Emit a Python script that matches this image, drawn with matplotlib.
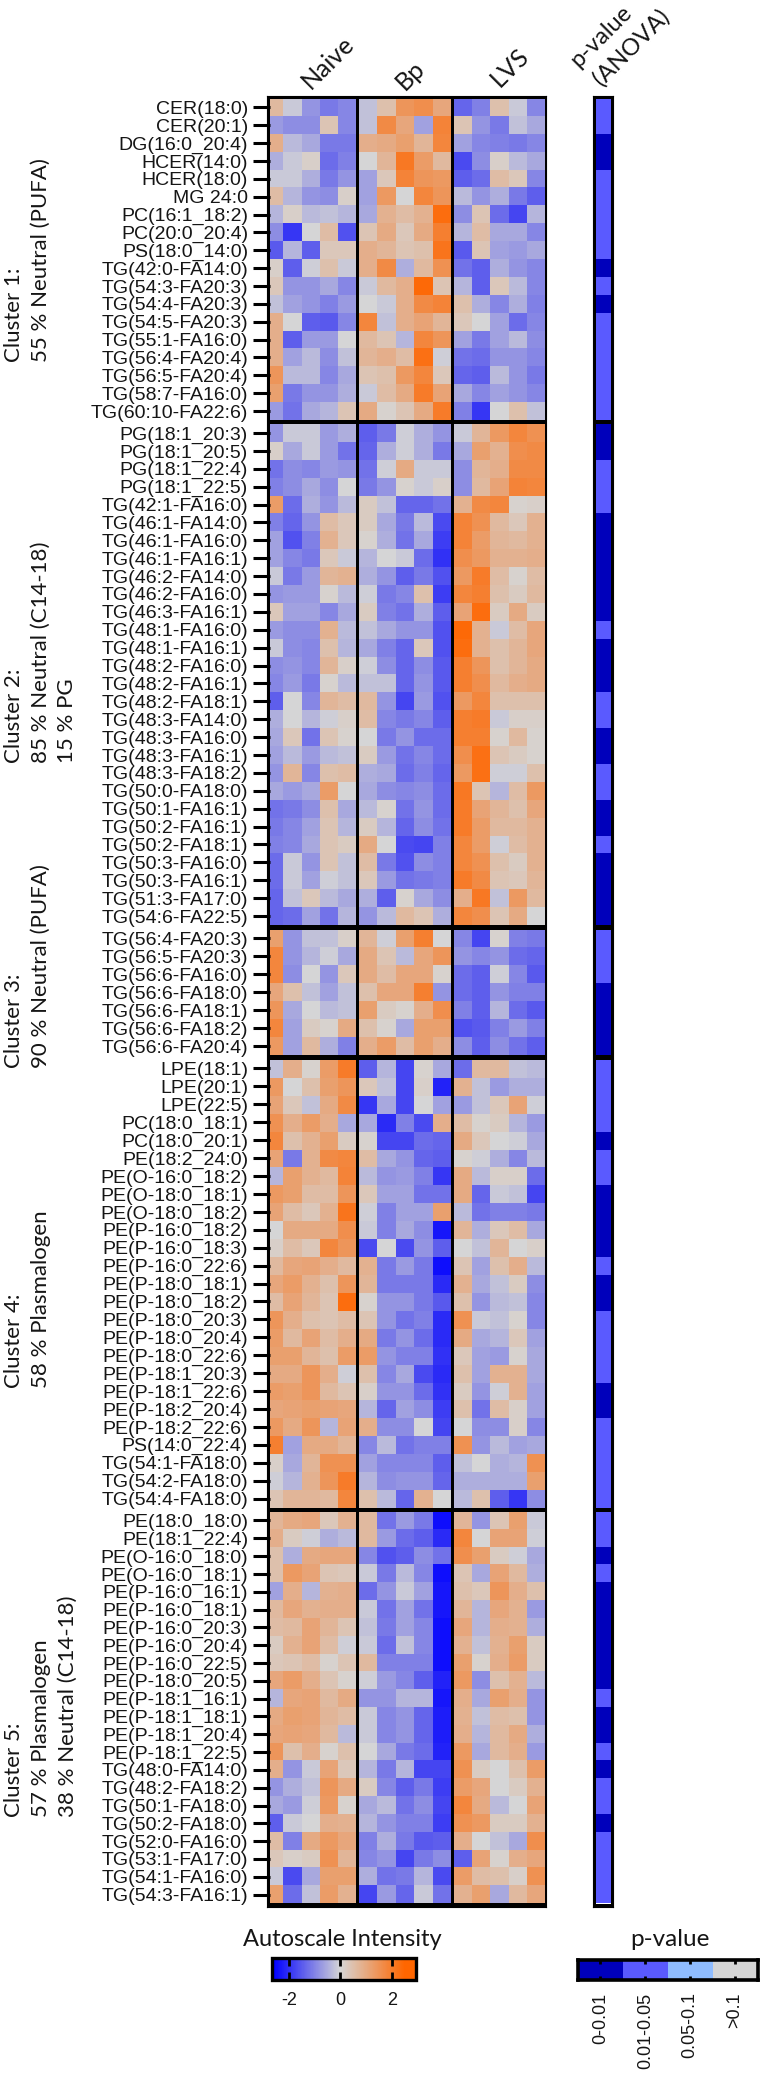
# lipid heatmap, five clusters, three groups plus ANOVA p-value strip
import numpy as np
import matplotlib
matplotlib.use("Agg")
import matplotlib.pyplot as plt
from matplotlib.colors import LinearSegmentedColormap, ListedColormap, Normalize

W, H = 764, 2076

names_1 = ["CER(18:0)", "CER(20:1)", "DG(16:0_20:4)", "HCER(14:0)", "HCER(18:0)", "MG 24:0",
           "PC(16:1_18:2)", "PC(20:0_20:4)", "PS(18:0_14:0)", "TG(42:0-FA14:0)", "TG(54:3-FA20:3)",
           "TG(54:4-FA20:3)", "TG(54:5-FA20:3)", "TG(55:1-FA16:0)", "TG(56:4-FA20:4)",
           "TG(56:5-FA20:4)", "TG(58:7-FA16:0)", "TG(60:10-FA22:6)"]
vals_1 = [
    [.8, -.2, -1.0, -1.4, -1.2, -.3, .6, 1.8, 2.0, 1.3, -1.7, -1.3, .6, -.2, -1.2],
    [-.9, -1.1, -1.1, .5, -1.2, -.3, 2.1, 1.3, -.8, 2.3, .5, -1.0, -1.4, -.3, -.7],
    [1.1, -.4, -.7, -1.4, -1.4, 1.1, 1.2, 1.5, .9, 2.2, -.8, -1.2, -1.3, -1.4, -1.2],
    [-.6, -.2, .2, -1.6, -1.3, 0, .9, 2.6, 1.6, .8, -2.1, -1.1, .2, -.4, -.7],
    [-.2, -.2, -.6, -1.4, -1.0, -.8, .4, 2.3, 1.8, 1.7, -1.8, -1.6, .7, .4, -1.2],
    [.7, -.5, -1.0, -1.1, .2, -.8, 1.7, 0, 2.2, 1.8, -.4, -1.0, -.6, -1.4, -1.8],
    [-.5, .2, -.4, -.3, -.5, -.7, 1, .7, 1, 2.9, -1.1, .5, -1.6, -2.2, -.5],
    [-1.1, -2.4, 0, .7, -2, .5, 1.2, .4, 1.2, 2.4, -.5, .7, -.7, -.7, -1.2],
    [-1.9, -.5, -1.8, .4, .4, 1.1, .9, .5, .6, 2.7, -1.9, .5, -.8, -.9, -.7],
    [.2, -1.8, -.1, .6, -.2, 1.1, 2.1, -.6, .8, 1.9, -1.5, -1.8, -.6, -1, -1.2],
    [.4, -1, -1, -.7, -1.2, -.2, .8, 1.1, 3, .5, -.5, -1.8, .4, -.4, -1.2],
    [-.3, -.8, -1, -1.3, -.9, 0, -.2, 1.1, 2.1, 2.3, .6, -.6, -1.2, -.6, -1.3],
    [1.1, 0, -1.8, -1.9, -1.2, 2.2, -.3, 1.1, 1.4, .9, .4, 0, -.8, -1.6, -1.2],
    [1.1, -1.8, -.9, -.9, 0, .8, .5, -.5, 2.2, 1.8, -.8, -1.4, -.8, -.4, -1.1],
    [1.1, -.8, -.4, -1.1, -.3, .9, 1.1, .7, 2.8, -.1, -1.5, -1.6, -1, -1, -1.2],
    [1.8, -.4, -.4, -1.2, -.7, .5, .6, 1.7, 2.2, .4, -1.7, -1.8, -.4, -1, -1.4],
    [1.5, -1.4, -1, -1, -.6, -.2, .7, 1.2, 2.5, 1.4, -.7, -1.2, -.8, -1, -1.2],
    [-.9, -1.5, -.7, -.5, .5, 1.2, .1, .5, 1.2, 2.5, -1.3, -2.4, 0, .6, -.3],
]
pval_1 = [1, 1, 0, 0, 1, 1, 1, 1, 1, 0, 1, 0, 1, 1, 1, 1, 1, 1]

names_2 = ["PG(18:1_20:3)", "PG(18:1_20:5)", "PG(18:1_22:4)", "PG(18:1_22:5)", "TG(42:1-FA16:0)",
           "TG(46:1-FA14:0)", "TG(46:1-FA16:0)", "TG(46:1-FA16:1)", "TG(46:2-FA14:0)", "TG(46:2-FA16:0)",
           "TG(46:3-FA16:1)", "TG(48:1-FA16:0)", "TG(48:1-FA16:1)", "TG(48:2-FA16:0)", "TG(48:2-FA16:1)",
           "TG(48:2-FA18:1)", "TG(48:3-FA14:0)", "TG(48:3-FA16:0)", "TG(48:3-FA16:1)", "TG(48:3-FA18:2)",
           "TG(50:0-FA18:0)", "TG(50:1-FA16:1)", "TG(50:2-FA16:1)", "TG(50:2-FA18:1)", "TG(50:3-FA16:0)",
           "TG(50:3-FA16:1)", "TG(51:3-FA17:0)", "TG(54:6-FA22:5)"]
vals_2 = [
    [-1.0, -.2, -.2, -.9, -.6, -1.8, -1.4, -.1, -.6, -1, -.2, .9, 1.7, 2.2, 1.9],
    [.2, -.7, -.2, -.9, -1.5, -1.7, -.6, -.1, -.6, -1.4, -.7, 1.5, 1, 2, 2.1],
    [-1.5, -1.1, -1.2, -.9, -1.0, -1.5, -.1, 1.2, -.2, -.2, -1.1, .9, 1.1, 2.1, 2.1],
    [-1.3, -1.1, -.7, -1.1, 0, -1.4, -1, .1, -.2, .2, -1.1, .8, 1.4, 2.3, 2.2],
    [1.6, -1.6, -.6, -1, -.4, .3, -.3, -1.7, -1.7, -1.5, 1, 2.1, 2.2, .1, .2],
    [-1.3, -1.7, -1, .7, .4, .3, -.7, -1.4, -.4, -2.1, 2.3, 1.9, .8, .4, 1],
    [-.8, -2, -1.3, 1, .4, .1, -.6, -1.5, -.7, -2.3, 2.3, 1.6, .9, .8, 1],
    [-.8, -1.2, -1.4, .4, -.2, -.5, 0, -.2, -1.6, -2.5, 2, 1.7, 1, 1, 1.1],
    [-.2, -1.4, -.9, .9, 1, -.6, -1, -1.8, -1.4, -2, 1.7, 2.5, .7, .1, .7],
    [-1, -.9, -.9, .1, -.4, -.1, -1.4, -1.2, .6, -2.3, 2.2, 2.4, .6, .3, .8],
    [.4, -.8, -.8, -1.2, -.7, .3, -1.3, -1.5, -.6, -1.8, 1.4, 2.9, .3, 1.2, .3],
    [-.9, -1.1, -1.1, 1, -.4, -.3, -.7, -1, -1, -2, 3, 1, -.2, .7, 1.3],
    [-.2, -1.1, -1.2, .6, -.5, -.7, -1.3, -1.7, .4, -2, 2.9, 1, .6, .9, 1.3],
    [-1.1, -1, -1.2, .9, .2, -.1, -1.1, -1.7, -1.1, -1.9, 2.4, 1.8, .6, .9, 1.2],
    [-1.2, -.9, -1.4, .1, -.4, -.3, -.3, -1.7, -1, -1.9, 2.4, 2, .8, 1.1, 1.2],
    [-1.8, 0, -1.2, .9, .7, .8, -1, -2.2, -.9, -2, 1.7, 2.2, .6, .6, .6],
    [-.6, 0, -.5, -.1, .2, .7, -1.2, -1.4, -1.2, -1.8, 2.4, 2.5, -.2, .2, .2],
    [-.7, .4, -1.5, .5, .1, 0, -1.4, -1, -1.6, -1.6, 2.4, 2.4, .1, .8, .1],
    [-.8, -.4, -.9, -.4, -.3, .3, -.9, -1.5, -1.2, -1.6, 2, 2.8, .5, .3, .1],
    [-1, .9, -1.2, .6, .7, -.6, -.7, -1.6, -1.3, -1.7, 1.7, 2.8, -.1, -.1, .6],
    [-.7, -.9, -.7, 1.6, 0, -.7, -1.1, -1.2, -1.1, -1.6, 2.6, .5, -.5, .7, 1.7],
    [-1.5, -1.4, -1.1, .6, -.7, -.4, .1, -1.5, -1, -1.6, 2.5, 1.4, .9, .6, 1.3],
    [-1.4, -1.2, -.8, .5, -.5, .3, -.5, -1.7, -1.1, -1.5, 2.5, 1.6, .8, .8, 1],
    [-1.3, -1.2, -.7, .5, .3, 1.2, 0, -2.1, -2.2, -1.3, 2.2, 1.6, -.1, .7, 1],
    [-1.6, -.2, -1, .5, -.3, .7, -1.4, -2, -1.1, -1.3, 2.2, 1.9, .6, .3, 1],
    [-1.6, -.2, -.8, -.1, -.3, .4, -.9, -1.5, -1.4, -1.3, 2.5, 2.1, .5, .4, .9],
    [-1.7, -.3, .4, -.4, -.7, -.6, -1.8, .1, -.7, -1.1, 1.1, 2.6, -.3, 1.7, .8],
    [-1.7, -1.6, -.8, -1.5, -.5, -1, -.4, .8, .5, -.6, 2.2, 2, .5, 1.2, 0],
]
pval_2 = [0, 0, 1, 1, 1, 0, 0, 0, 0, 0, 0, 1, 0, 0, 0, 1, 1, 0, 0, 1, 1, 0, 0, 1, 0, 0, 0, 0]

names_3 = ["TG(56:4-FA20:3)", "TG(56:5-FA20:3)", "TG(56:6-FA16:0)", "TG(56:6-FA18:0)",
           "TG(56:6-FA18:1)", "TG(56:6-FA18:2)", "TG(56:6-FA20:4)"]
vals_3 = [
    [1.5, -1, -.3, -.3, .2, .9, -.1, 1.5, 2.4, 0, -1.2, -2.2, .1, -1.3, -1.4],
    [2.2, -1, -.5, -.1, -.7, 1.2, .5, -.4, 1.3, 1.8, -1, -1.2, -1, -1.6, -1.7],
    [2.2, -1.1, 0, -1, .4, 1.2, .7, 1.3, 1.3, .1, -1.6, -1.8, -.1, -1.2, -1.9],
    [1.3, .6, -.3, -.8, -.3, .6, 1.3, 1.3, 2.4, -1, -1.6, -1.8, -1, -1.3, -1.3],
    [1.8, -.7, 0, -.4, -.3, 1.5, .3, .1, 1.1, 2, -1.3, -1.8, -.5, -1.6, -1.9],
    [2.2, -.8, .3, .1, 1.2, .6, .1, -.7, 1.5, 1.5, -2, -1.9, -1.3, -.9, -1.3],
    [1.7, -.8, .8, -.6, -1.3, 1.1, 1.6, .7, 1.5, 1.1, -1.1, -1.8, -1.1, -1.5, -1.8],
]
pval_3 = [1, 1, 1, 0, 0, 0, 0]

names_4 = ["LPE(18:1)", "LPE(20:1)", "LPE(22:5)", "PC(18:0_18:1)", "PC(18:0_20:1)", "PE(18:2_24:0)",
           "PE(O-16:0_18:2)", "PE(O-18:0_18:1)", "PE(O-18:0_18:2)", "PE(P-16:0_18:2)", "PE(P-16:0_18:3)",
           "PE(P-16:0_22:6)", "PE(P-18:0_18:1)", "PE(P-18:0_18:2)", "PE(P-18:0_20:3)", "PE(P-18:0_20:4)",
           "PE(P-18:0_22:6)", "PE(P-18:1_20:3)", "PE(P-18:1_22:6)", "PE(P-18:2_20:4)", "PE(P-18:2_22:6)",
           "PS(14:0_22:4)", "TG(54:1-FA18:0)", "TG(54:2-FA18:0)", "TG(54:4-FA18:0)"]
vals_4 = [
    [-.3, 1.1, .1, 1.6, 2.5, -1.8, -.5, -2.2, .1, -.7, -1.6, .8, .8, -.3, -.4],
    [1.7, 0, .6, 1.5, 1.8, .4, -.3, -2.2, .2, -2.7, 1, -.3, -.9, -.6, -.6],
    [1.4, .4, -.3, 1.2, 2.1, -2.4, -.7, -2.2, 0, -.8, -.9, -.3, .4, 1.4, -.1],
    [1.9, 1.1, 1.6, 1.1, -.7, -.7, -2.6, -1.3, -2.1, 1.1, .7, .1, .3, -.5, -.9],
    [2.2, .6, 1, 1.5, .3, .1, -2.2, -2.2, -1.6, -1.7, 1.2, .4, 0, -.1, -.7],
    [1.4, -1.4, 1, 2.1, 2.2, .7, -.7, -1.0, -1.7, -1.8, .1, -.1, -.6, -1.2, -.4],
    [-.5, 1.5, 1, .8, 2.3, -.4, -1, -.9, -1.3, -2.4, 1.2, -.4, .2, .2, -1.6],
    [1.7, 1.5, .7, .7, 1.8, .4, -.8, -.8, -1.5, -1.5, 1.2, -1.7, -.2, -.3, -2.2],
    [1.4, .7, .4, 1, 2.7, -.1, -1.3, -.8, -.8, 1.5, -.4, -1.5, -1.3, -1.3, -1.4],
    [0, 1.2, 1.2, 1.2, 2, -.2, -1.3, -.7, -1.1, -2.9, .9, -.6, .4, .7, -.7],
    [.2, .7, .4, 2.2, 1.8, -2.1, 0, -2.1, -1, -1.8, 0, -.3, .9, 0, .2],
    [.8, 1.3, 1.4, 1.1, .8, 1, -1.4, -.9, -1.4, -3, .5, -.8, .6, 1.1, -.4],
    [1.3, 1.6, 1, .6, 1.8, .9, -1.4, -1.4, -1.4, -2.6, 1, -.7, -.3, .3, -1.1],
    [.7, 1.4, .9, .5, 2.9, .1, -1, -1, -1.4, -1.9, .6, -1, -.4, -.3, -1.2],
    [1.8, 1.1, .6, .5, .7, .5, -1, -1.5, -1.3, -2.6, 1.9, -.2, -.3, .1, -1.2],
    [1.6, .8, 1.4, .7, 1.1, 1.2, -1.4, -1, -1.6, -2.6, 1.2, -.7, -.5, .4, -.8],
    [1.5, 1.5, .9, .6, 1.6, 1.6, -1, -1.3, -1.3, -2.5, .4, -.8, -.9, .1, -.7],
    [1.2, 1.2, 1.8, 1.1, -.1, .6, -1.2, -.7, -2.1, -2.6, .6, -.8, 1, 1, -.7],
    [1.6, 1.5, 1.8, .8, .5, .2, -1, -1, -1.6, -2.5, .3, -1, -.1, 1, -.8],
    [1.3, 1.4, 1.5, 1.4, 1.3, -.5, -1.7, -.8, -1.1, -2.3, .6, -1.5, .7, .2, -.8],
    [1.7, 1.2, 1.8, -.5, 1.4, 1.1, -1.1, -1.1, 0, -2.2, 0, -1.1, -1.1, .2, -1.2],
    [2.4, -.8, 1.2, 1.2, .9, -1.2, -.4, -1.5, -1.3, -1.3, 1.9, -1, -.4, -.8, -.7],
    [.2, -.7, .9, 1.9, 1.9, -.8, -1.2, -1.2, -1.2, -1.8, -.3, 0, -.6, -.5, 1.9],
    [-.1, -.5, 1, 1.8, 2.5, -.5, -1.1, -1, -1, -1.7, -.6, -.6, -.6, -.6, 1.5],
    [.5, .9, .9, .8, 2.2, .6, -.4, -1.7, 1, 0, -.4, .6, -1.8, -2.4, -1.1],
]
pval_4 = [1, 1, 1, 1, 0, 1, 1, 0, 0, 0, 0, 1, 0, 0, 1, 1, 1, 1, 0, 0, 1, 1, 1, 1, 1]

names_5 = ["PE(18:0_18:0)", "PE(18:1_22:4)", "PE(O-16:0_18:0)", "PE(O-16:0_18:1)", "PE(P-16:0_16:1)",
           "PE(P-16:0_18:1)", "PE(P-16:0_20:3)", "PE(P-16:0_20:4)", "PE(P-16:0_22:5)", "PE(P-18:0_20:5)",
           "PE(P-18:1_16:1)", "PE(P-18:1_18:1)", "PE(P-18:1_20:4)", "PE(P-18:1_22:5)", "TG(48:0-FA14:0)",
           "TG(48:2-FA18:2)", "TG(50:1-FA18:0)", "TG(50:2-FA18:0)", "TG(52:0-FA16:0)", "TG(53:1-FA17:0)",
           "TG(54:1-FA16:0)", "TG(54:3-FA16:1)"]
vals_5 = [
    [.9, 1.2, 1.3, .4, 1, .8, -1.5, -.9, -1.4, -3, .9, -1, .5, 1.5, -.2],
    [1.1, .3, -.1, -.6, -.4, .8, -.9, -1.6, -1.8, -2.6, 2.2, 0, 1.4, 1.4, -.1],
    [.6, -.6, 1.2, 1.3, 1.3, -1.2, -2, -1.8, -1.1, -1.5, 2, 1.5, .3, -.1, -.7],
    [.6, 1.7, 1.4, .5, .4, -.2, -1.4, -.4, -1.2, -3, .5, -.7, 1.4, .8, -.6],
    [-.8, 1.1, -.5, 1, 1.1, -1.6, -1, -.2, -.8, -2.9, .6, .4, 1.8, 1.1, .6],
    [.8, 1.3, 1, 1.1, 1.1, -.2, -1.5, -.8, -1.5, -2.9, .9, -.5, 1.3, 1, -.9],
    [.7, .8, 1.4, .9, .5, -.3, -1.4, -.8, -1.2, -3, 1.3, -.5, 1.1, 1, -.6],
    [.3, 1, 1.4, .7, -.1, -.2, -1.6, -.3, -1.2, -3, 1, -.3, 1, 1.5, .3],
    [.4, .5, .7, .1, .5, .8, -1.3, -1.3, -1.3, -3, 1.5, .1, 1.1, 1.6, .3],
    [1.3, 1.6, 1.1, .5, .1, -.1, -.9, -1.2, -1.8, -2.7, 1.7, -1.1, .6, 1, -.4],
    [-.5, 1.3, 1.4, .8, 1.2, -1, -1, -.5, -.5, -2.9, 1.1, -.7, 1.5, 1.1, -1],
    [1.2, 1.5, 1.4, .9, .7, -.2, -1.2, -1, -1.7, -2.8, 1, -.3, .7, .6, -1],
    [1.3, 1.4, 1.3, .8, -.4, -.2, -1.2, -1, -1.7, -2.8, 1.1, -.5, .8, 1.2, -.6],
    [1.8, .6, 1.1, .1, .6, 0, -.7, -1.4, -1.6, -2.7, 1.7, -.7, .8, 1.1, -.9],
    [1.1, -1, -.2, 1.4, .4, -.5, -1.4, -.5, -2.2, -2.2, 1.9, .3, 0, .6, 1.6],
    [-1, -.6, -.3, 1.8, 1.2, .3, -1.2, -1.8, -1.4, -2.3, 1.6, 1.3, 0, .3, 1],
    [-.7, -.9, -.1, 1.7, .1, -.7, -.4, -1.5, -1.1, -2.2, 2.2, 1.2, -.4, 0, 1.4],
    [-1.8, -.2, 0, 1.1, 1, -.5, -1, -1.3, -1.3, -2.3, 1.9, 1.7, .3, .3, 1],
    [.7, -1.3, 1.2, 1.7, 1.3, -1.3, -.6, -1.4, -1.9, -1.8, 1.1, 0, -.3, -.7, 2],
    [.4, .2, .3, 1.9, .9, -1.2, -1, -2.2, -1.4, -1.1, -1.8, 1.4, .1, 1.1, 1.3],
    [-.2, -2.1, -.7, 1.5, 1.5, -.6, -1.5, -1.4, -.5, -2.1, 1.6, .7, .6, .2, 1.9],
    [1.5, -1.6, -.3, 1.6, 1, -2.2, -.9, -1.7, -.2, -1.5, 1, 1.5, -.7, .8, 1.3],
]
pval_5 = [1, 1, 0, 1, 0, 0, 0, 0, 0, 0, 1, 0, 0, 1, 0, 1, 1, 0, 1, 1, 1, 1]

cluster_labels = ["Cluster 1:\n55 % Neutral (PUFA)",
                  "Cluster 2:\n85 % Neutral (C14-18)\n15 % PG",
                  "Cluster 3:\n90 % Neutral (PUFA)",
                  "Cluster 4:\n58 % Plasmalogen",
                  "Cluster 5:\n57 % Plasmalogen\n38 % Neutral (C14-18)"]
group_names = ["Naive", "Bp", "LVS"]
p_classes = ["0-0.01", "0.01-0.05", "0.05-0.1", ">0.1"]

# cells were read on a scale of about +-3, the colour bar saturates earlier
read_scale = 0.8

# colours, ramp saturates just inside both ends of the bar
v_min, v_max = -2.66, 2.94
heat_norm = Normalize(v_min, v_max)
heat_cmap = LinearSegmentedColormap.from_list("heat", [
    (0, "#0000ff"), (heat_norm(-2.6), "#0000ff"), (heat_norm(0), "#d6d6d6"),
    (heat_norm(2.5), "#ff6600"), (1, "#ff6600")])
p_colors = ["#0000bb", "#5a5aff", "#8fbcff", "#d5d5d5"]
p_cmap = ListedColormap(p_colors)

label_font = ["Liberation Sans"]
title_font = ["Lato"]
text_color = "#151515"


def px_axes(left, top, right, bottom, **kw):
    # axes placed by pixel edges, y measured from the top of the image
    return fig.add_axes([left / W, 1 - bottom / H, (right - left) / W, (bottom - top) / H], **kw)


fig = plt.figure(figsize=(W / 100, H / 100), dpi=100)

# black plates behind the cells give the frame and the separators
for left, right in [(266.7, 546.3), (593, 613)]:
    plate = px_axes(left, 95.5, right, 1906.5, facecolor="black")
    plate.set_xticks([])
    plate.set_yticks([])

clusters = [(names_1, vals_1, pval_1, 98.5, 420),
            (names_2, vals_2, pval_2, 424, 925),
            (names_3, vals_3, pval_3, 929.5, 1055),
            (names_4, vals_4, pval_4, 1059.5, 1507.5),
            (names_5, vals_5, pval_5, 1511.5, 1903.5)]
label_bottoms = [362, 763, 1068, 1388, 1817]
# column groups: first and last column, left and right pixel of the group
group_spans = [(0, 5, 265.3, 355.5), (5, 10, 359, 450), (10, 15, 453.5, 544)]

for (names, vals, pvals, top, bottom), text, text_y in zip(clusters, cluster_labels, label_bottoms):
    data = np.array(vals) * read_scale
    n = len(names)
    ax = px_axes(270, top, 544, bottom, facecolor="none")
    for first, last, x0, x1 in group_spans:
        ax.imshow(data[:, first:last], cmap=heat_cmap, norm=heat_norm, aspect="auto",
                  interpolation="nearest", extent=(x0, x1, n - 0.5, -0.5))
    ax.set_xlim(270, 544)
    ax.set_ylim(n - 0.5, -0.5)
    ax.set_xticks([])
    ax.set_yticks(range(n))
    ax.set_yticklabels(names, fontsize=14, family=label_font, color=text_color)
    ax.tick_params(axis="y", length=12.2, width=2.2, pad=3.6)
    for s in ax.spines.values():
        s.set_visible(False)

    ax_p = px_axes(596, top, 610.5, bottom)
    ax_p.imshow(np.array(pvals)[:, None], cmap=p_cmap, vmin=-0.5, vmax=3.5, aspect="auto", interpolation="nearest")
    ax_p.set_xticks([])
    ax_p.set_yticks([])
    for s in ax_p.spines.values():
        s.set_visible(False)

    fig.text(4 / W, 1 - text_y / H, text, rotation=90, ha="left", va="bottom", multialignment="left",
             fontsize=16, family=title_font, linespacing=1.42, color=text_color)

# headers above the heatmap
for name, x, y in zip(group_names, [327.5, 410, 510], [62, 75, 67]):
    fig.text(x / W, 1 - y / H, name, rotation=45, ha="center", va="center", fontsize=18,
             family=title_font, color=text_color)
fig.text(601 / W, 1 - 36 / H, "p-value", rotation=45, ha="center", va="center", fontsize=17,
         family=title_font, color=text_color)
fig.text(631 / W, 1 - 47 / H, "(ANOVA)", rotation=45, ha="center", va="center", fontsize=17,
         family=title_font, color=text_color)

# intensity colour bar
cax = px_axes(272, 1957.5, 416, 1979.5)
sm = plt.cm.ScalarMappable(norm=heat_norm, cmap=heat_cmap)
cbar = fig.colorbar(sm, cax=cax, orientation="horizontal", ticks=[-2, 0, 2])
cbar.outline.set_linewidth(2.4)
cax.tick_params(axis="x", which="both", top=True, bottom=True, direction="in", length=5.5, width=2, pad=9,
                labelsize=13, labelcolor=text_color)
cax.set_xticklabels(["-2", "0", "2"], family=label_font)
fig.text(342 / W, 1 - 1939 / H, "Autoscale Intensity", ha="center", va="center", fontsize=17,
         family=title_font, color=text_color)

# p-value legend bar
pax = px_axes(578, 1960, 757.5, 1980)
pax.imshow(np.arange(4)[None, :], cmap=p_cmap, vmin=-0.5, vmax=3.5, aspect="auto", interpolation="nearest")
pax.set_yticks([])
pax.set_xticks(range(4))
pax.set_xticklabels(p_classes, rotation=90, fontsize=13, family=label_font, color=text_color)
pax.tick_params(axis="x", top=True, bottom=True, direction="in", length=3, width=2, pad=9)
for s in pax.spines.values():
    s.set_linewidth(2.6)
fig.text(669.5 / W, 1 - 1939 / H, "p-value", ha="center", va="center", fontsize=17.5, family=title_font,
         color=text_color)

fig.savefig("out.png", dpi=100)
